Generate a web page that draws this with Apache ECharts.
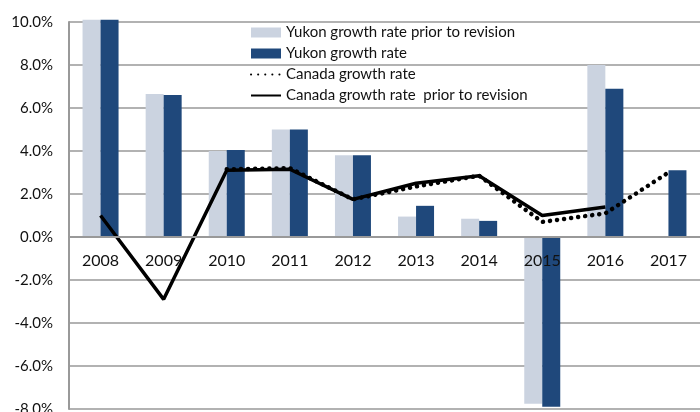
<!DOCTYPE html>
<html>
<head>
<meta charset="utf-8">
<script src="https://cdn.jsdelivr.net/npm/echarts@6/dist/echarts.min.js"></script>
<style>
  html, body { margin: 0; padding: 0; background: #fff; }
  #chart { width: 700px; height: 412px; }
</style>
</head>
<body>
<div id="chart"></div>
<script>
// Data
var years = ['2008', '2009', '2010', '2011', '2012', '2013', '2014', '2015', '2016', '2017'];
var yukonPrior = [10.1, 6.65, 4.0, 5.0, 3.8, 0.95, 0.85, -7.75, 8.0, null];
var yukonRate = [10.1, 6.6, 4.05, 5.0, 3.8, 1.45, 0.75, -7.9, 6.9, 3.1];
var canadaRate = [null, null, 3.15, 3.2, 1.75, 2.35, 2.85, 0.7, 1.1, 3.0];
var canadaPrior = [1.0, -2.9, 3.1, 3.15, 1.75, 2.5, 2.85, 1.0, 1.4, null];

var chart = echarts.init(document.getElementById('chart'));

chart.setOption({
    animation: false,
    textStyle: {
        fontFamily: 'Lato, "Open Sans", sans-serif'
    },
    grid: {
        left: 69,
        right: 0,
        top: 22,
        bottom: 3,
        outerBoundsMode: 'none'
    },
    legend: {
        orient: 'vertical',
        left: 245,
        top: 20,
        itemWidth: 30,
        itemHeight: 10,
        itemGap: 6,
        textStyle: {
            fontSize: 15,
            lineHeight: 15,
            color: '#111'
        },
        data: [
            { name: 'Yukon growth rate prior to revision', icon: 'rect' },
            { name: 'Yukon growth rate', icon: 'rect' },
            { name: 'Canada growth rate', itemStyle: { opacity: 0 } },
            { name: 'Canada growth rate  prior to revision', itemStyle: { opacity: 0 } }
        ]
    },
    // category labels sit just under the 0% line, drawn over the bars
    xAxis: {
        type: 'category',
        data: years,
        z: 5,
        axisTick: { show: false },
        axisLine: {
            lineStyle: { color: '#999', width: 2 }
        },
        axisLabel: {
            color: '#111',
            fontSize: 16,
            margin: -156
        }
    },
    yAxis: {
        type: 'value',
        min: -8,
        max: 10,
        interval: 2,
        axisLine: {
            show: true,
            onZero: false,
            lineStyle: { color: '#999', width: 2 }
        },
        axisTick: { show: false },
        axisLabel: {
            color: '#111',
            fontSize: 15,
            margin: 16,
            formatter: function (v) { return v.toFixed(1) + '%'; }
        },
        splitLine: {
            lineStyle: { color: '#999', width: 1.5 }
        }
    },
    series: [
        {
            name: 'Yukon growth rate prior to revision',
            type: 'bar',
            data: yukonPrior,
            barWidth: 18,
            barGap: '0%',
            clip: false,
            itemStyle: { color: '#cbd3e0' }
        },
        {
            name: 'Yukon growth rate',
            type: 'bar',
            data: yukonRate,
            barWidth: 18,
            barGap: '0%',
            clip: false,
            itemStyle: { color: '#1f487b' }
        },
        {
            name: 'Canada growth rate',
            type: 'line',
            data: canadaRate,
            symbol: 'none',
            z: 3,
            itemStyle: { color: '#000' },
            lineStyle: { color: '#000', width: 4.5, type: [0.1, 7], cap: 'round' }
        },
        {
            name: 'Canada growth rate  prior to revision',
            type: 'line',
            data: canadaPrior,
            symbol: 'none',
            z: 3,
            itemStyle: { color: '#000' },
            lineStyle: { color: '#000', width: 3.5 }
        }
    ]
});
</script>
</body>
</html>
